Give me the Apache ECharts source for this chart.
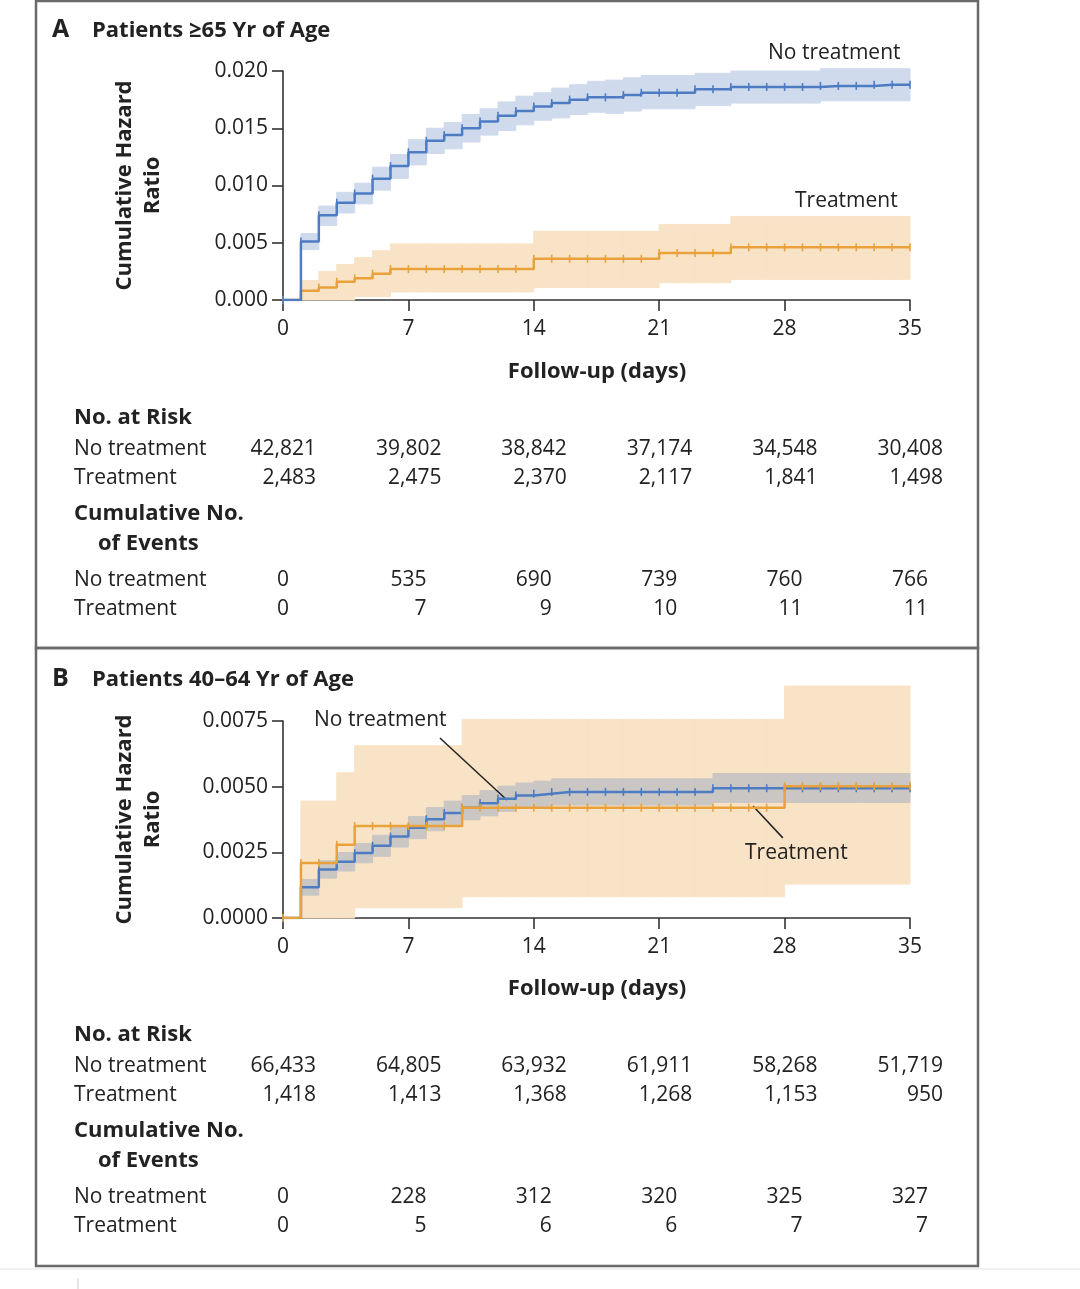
<!DOCTYPE html>
<html>
<head>
<meta charset="utf-8">
<script src="https://cdn.jsdelivr.net/npm/echarts@6/dist/echarts.min.js"></script>
<style>
html,body{margin:0;padding:0;background:#fff;}
#chart{width:1080px;height:1289px;}
</style>
</head>
<body>
<div id="chart"></div>
<script>
// ---------- DATA ----------
const xTicks = [0, 7, 14, 21, 28, 35];

// Panel A: Patients >=65 yr — cumulative hazard by day (value holding from day d to d+1)
const noTxA = [0, 0.0051, 0.0074, 0.0085, 0.0093, 0.0106, 0.0117, 0.0129, 0.0139, 0.0144, 0.0150, 0.0156,
  0.0161, 0.0165, 0.0169, 0.0172, 0.0175, 0.0177, 0.0177, 0.0179, 0.0181, 0.0181, 0.0181, 0.0184, 0.0184,
  0.0186, 0.0186, 0.0186, 0.0186, 0.0186, 0.0187, 0.0187, 0.0187, 0.0188, 0.0188, 0.0188];
const noTxALower = [null, 0.0044, 0.0065, 0.0076, 0.0084, 0.0096, 0.0106, 0.0118, 0.0128, 0.0132, 0.0138, 0.0144,
  0.0148, 0.0153, 0.0157, 0.0159, 0.0162, 0.0164, 0.0163, 0.0165, 0.0167, 0.0167, 0.0167, 0.0170, 0.0170,
  0.0172, 0.0172, 0.0172, 0.0172, 0.0172, 0.0174, 0.0174, 0.0174, 0.0174, 0.0174];
const noTxAUpper = [null, 0.0058, 0.0082, 0.0094, 0.0102, 0.0116, 0.0127, 0.0140, 0.0150, 0.0155, 0.0162, 0.0167,
  0.0173, 0.0178, 0.0181, 0.0185, 0.0188, 0.0191, 0.0192, 0.0194, 0.0196, 0.0196, 0.0196, 0.0198, 0.0198,
  0.0200, 0.0200, 0.0200, 0.0200, 0.0200, 0.0202, 0.0202, 0.0202, 0.0202, 0.0202];
const txA = [0, 0.0008, 0.0011, 0.0016, 0.0019, 0.0023, 0.0027, 0.0027, 0.0027, 0.0027, 0.0027, 0.0027,
  0.0027, 0.0027, 0.0036, 0.0036, 0.0036, 0.0036, 0.0036, 0.0036, 0.0036, 0.0041, 0.0041, 0.0041, 0.0041,
  0.0046, 0.0046, 0.0046, 0.0046, 0.0046, 0.0046, 0.0046, 0.0046, 0.0046, 0.0046, 0.0046];
const txALower = [null, 0, 0, 0, 0.0003, 0.0003, 0.0007, 0.0007, 0.0007, 0.0007, 0.0007, 0.0007,
  0.0007, 0.0007, 0.0011, 0.0011, 0.0011, 0.0011, 0.0011, 0.0011, 0.0011, 0.0015, 0.0015, 0.0015, 0.0015,
  0.0018, 0.0018, 0.0018, 0.0018, 0.0018, 0.0018, 0.0018, 0.0018, 0.0018, 0.0018];
const txAUpper = [null, 0.0017, 0.0025, 0.0031, 0.0037, 0.0043, 0.0049, 0.0049, 0.0049, 0.0049, 0.0049, 0.0049,
  0.0049, 0.0049, 0.0060, 0.0060, 0.0060, 0.0060, 0.0060, 0.0060, 0.0060, 0.0066, 0.0066, 0.0066, 0.0066,
  0.0073, 0.0073, 0.0073, 0.0073, 0.0073, 0.0073, 0.0073, 0.0073, 0.0073, 0.0073];

// Panel B: Patients 40-64 yr
const noTxB = [0, 0.00117, 0.00185, 0.00214, 0.00247, 0.00275, 0.0031, 0.00344, 0.00376, 0.0040, 0.0042, 0.00437,
  0.00454, 0.00466, 0.00473, 0.0048, 0.0048, 0.0048, 0.0048, 0.0048, 0.0048, 0.0048, 0.0048, 0.0048, 0.00494,
  0.00494, 0.00494, 0.00494, 0.00494, 0.00494, 0.00494, 0.00494, 0.00494, 0.00494, 0.00494, 0.00494];
const noTxBLower = [null, 0.00087, 0.00152, 0.00179, 0.0021, 0.00235, 0.0027, 0.00302, 0.00332, 0.00355, 0.00374, 0.00389,
  0.00406, 0.00418, 0.00425, 0.0043, 0.0043, 0.0043, 0.0043, 0.0043, 0.0043, 0.0043, 0.0043, 0.0043, 0.0044,
  0.0044, 0.0044, 0.0044, 0.0044, 0.0044, 0.0044, 0.0044, 0.0044, 0.0044, 0.0044];
const noTxBUpper = [null, 0.00147, 0.00218, 0.00249, 0.00284, 0.00315, 0.0035, 0.00386, 0.0042, 0.00445, 0.00466, 0.00485,
  0.00502, 0.00514, 0.00521, 0.0053, 0.0053, 0.0053, 0.0053, 0.0053, 0.0053, 0.0053, 0.0053, 0.0053, 0.0055,
  0.0055, 0.0055, 0.0055, 0.0055, 0.0055, 0.0055, 0.0055, 0.0055, 0.0055, 0.0055];
const txB = [0, 0.00209, 0.00209, 0.00279, 0.0035, 0.0035, 0.0035, 0.0035, 0.0035, 0.0035, 0.0042, 0.0042,
  0.0042, 0.0042, 0.0042, 0.0042, 0.0042, 0.0042, 0.0042, 0.0042, 0.0042, 0.0042, 0.0042, 0.0042, 0.0042,
  0.0042, 0.0042, 0.0042, 0.00502, 0.00502, 0.00502, 0.00502, 0.00502, 0.00502, 0.00502, 0.00502];
const txBLower = [null, 0, 0, 0, 0.00039, 0.00039, 0.00039, 0.00039, 0.00039, 0.00039, 0.00081, 0.00081,
  0.00081, 0.00081, 0.00081, 0.00081, 0.00081, 0.00081, 0.00081, 0.00081, 0.00081, 0.00081, 0.00081, 0.00081, 0.00081,
  0.00081, 0.00081, 0.00081, 0.00129, 0.00129, 0.00129, 0.00129, 0.00129, 0.00129, 0.00129];
const txBUpper = [null, 0.00445, 0.00445, 0.00553, 0.00656, 0.00656, 0.00656, 0.00656, 0.00656, 0.00656, 0.00756, 0.00756,
  0.00756, 0.00756, 0.00756, 0.00756, 0.00756, 0.00756, 0.00756, 0.00756, 0.00756, 0.00756, 0.00756, 0.00756, 0.00756,
  0.00756, 0.00756, 0.00756, 0.00883, 0.00883, 0.00883, 0.00883, 0.00883, 0.00883, 0.00883];

// Tables
const riskNoTxA = [42821, 39802, 38842, 37174, 34548, 30408];
const riskTxA = [2483, 2475, 2370, 2117, 1841, 1498];
const eventsNoTxA = [0, 535, 690, 739, 760, 766];
const eventsTxA = [0, 7, 9, 10, 11, 11];
const riskNoTxB = [66433, 64805, 63932, 61911, 58268, 51719];
const riskTxB = [1418, 1413, 1368, 1268, 1153, 950];
const eventsNoTxB = [0, 228, 312, 320, 325, 327];
const eventsTxB = [0, 5, 6, 6, 7, 7];

// ---------- STYLE ----------
const FONT = '"Open Sans", "Noto Sans", sans-serif';
const BLUE = '#4d7cc3';
const ORANGE = '#e9a23b';
const BLUE_BAND = '#cfdaed';
const ORANGE_BAND = '#f8e3c6';
const GRAY_BAND = '#cac6c3';
const AX = '#333';

const GL = 283, GW = 627;
const gridA = {left: GL, top: 71, width: GW, height: 229};
const gridB = {left: GL, top: 721, width: GW, height: 197};

function lineData(arr) { return arr.map((v, d) => [d, v]); }
function bandData(lo, hi) {
  const out = [];
  for (let d = 0; d < lo.length; d++) if (lo[d] !== null) out.push([d, lo[d], hi[d]]);
  return out;
}
function bandSeries(idx, lo, hi, color, z) {
  return {
    type: 'custom', xAxisIndex: idx, yAxisIndex: idx, clip: false, silent: true, z: z,
    data: bandData(lo, hi),
    renderItem: function (params, api) {
      const x0 = api.value(0);
      const p1 = api.coord([x0, api.value(2)]);
      const p2 = api.coord([x0 + 1, api.value(1)]);
      return {type: 'rect', shape: {x: p1[0], y: p1[1], width: p2[0] - p1[0], height: p2[1] - p1[1]},
        style: {fill: color, stroke: color, lineWidth: 1}};
    }
  };
}
function kmSeries(idx, arr, color, z, extra) {
  return Object.assign({
    type: 'line', xAxisIndex: idx, yAxisIndex: idx, step: 'end', data: lineData(arr),
    symbol: 'rect', symbolSize: [1.6, 8], showSymbol: true, silent: true, z: z,
    lineStyle: {color: color, width: 2.5}, itemStyle: {color: color}
  }, extra || {});
}
function xAxis(idx) {
  return {
    type: 'value', gridIndex: idx, min: 0, max: 35, interval: 7,
    axisLine: {lineStyle: {color: AX, width: 1.6}},
    axisTick: {length: 11, lineStyle: {color: AX, width: 1.6}},
    axisLabel: {fontSize: 21, color: '#222', margin: 19, fontFamily: FONT},
    splitLine: {show: false}
  };
}
function yAxis(idx, max, interval, digits) {
  return {
    type: 'value', gridIndex: idx, min: 0, max: max, interval: interval,
    axisLine: {show: true, lineStyle: {color: AX, width: 1.6}},
    axisTick: {show: true, length: 11, lineStyle: {color: AX, width: 1.6}},
    axisLabel: {fontSize: 21, color: '#222', margin: 15, fontFamily: FONT,
      formatter: v => v.toFixed(digits)},
    splitLine: {show: false}
  };
}

// ---------- GRAPHIC TEXTS ----------
const graphics = [];
function txt(x, y, s, opt) {
  opt = opt || {};
  graphics.push({
    type: 'text', x: x, y: y, rotation: opt.rotation || 0, silent: true, z: 100,
    style: {text: s, fontFamily: FONT, fontSize: opt.size || 21, fontWeight: opt.bold ? 'bold' : 'normal',
      fill: opt.color || '#222', textAlign: opt.align || 'left', textVerticalAlign: 'middle',
      lineHeight: opt.lineHeight || 28}
  });
}
graphics.push({type: 'rect', shape: {x: 36, y: 1, width: 942, height: 647}, silent: true,
  style: {fill: 'none', stroke: '#6a6a6a', lineWidth: 2.5}});
graphics.push({type: 'rect', shape: {x: 36, y: 648, width: 942, height: 618}, silent: true,
  style: {fill: 'none', stroke: '#6a6a6a', lineWidth: 2.5}});
graphics.push({type: 'line', shape: {x1: 0, y1: 1269, x2: 1080, y2: 1269}, silent: true,
  style: {stroke: '#e2e2e2', lineWidth: 1}});
graphics.push({type: 'line', shape: {x1: 78, y1: 1278, x2: 78, y2: 1289}, silent: true,
  style: {stroke: '#cccccc', lineWidth: 1}});

function tickX(d) { return GL + d / 35 * GW; }
function fmt(n) { return n.toLocaleString('en-US'); }

function panel(titleY, offY, letter, title, riskNo, riskTx, evNo, evTx, gridTop, gridH) {
  txt(52, titleY, letter, {bold: true, size: 25});
  txt(92, titleY + 1, title, {bold: true, size: 22});
  // y-axis title
  txt(139, gridTop + gridH / 2, 'Cumulative Hazard\nRatio', {bold: true, size: 22, align: 'center', rotation: Math.PI / 2});
  // x-axis title
  txt(597, 372 + offY, 'Follow-up (days)', {bold: true, size: 22, align: 'center'});
  // table
  txt(74, 418 + offY, 'No. at Risk', {bold: true, size: 22});
  txt(74, 449 + offY, 'No treatment');
  txt(74, 478 + offY, 'Treatment');
  txt(74, 514 + offY, 'Cumulative No.', {bold: true, size: 22});
  txt(98, 544 + offY, 'of Events', {bold: true, size: 22});
  txt(74, 580 + offY, 'No treatment');
  txt(74, 609 + offY, 'Treatment');
  xTicks.forEach((d, i) => {
    const tx = tickX(d);
    txt(tx + 33, 449 + offY, fmt(riskNo[i]), {align: 'right'});
    txt(tx + 33, 478 + offY, fmt(riskTx[i]), {align: 'right'});
    if (i === 0) {
      txt(tx, 580 + offY, fmt(evNo[i]), {align: 'center'});
      txt(tx, 609 + offY, fmt(evTx[i]), {align: 'center'});
    } else {
      txt(tx + 18, 580 + offY, fmt(evNo[i]), {align: 'right'});
      txt(tx + 18, 609 + offY, fmt(evTx[i]), {align: 'right'});
    }
  });
}
panel(30, 0, 'A', 'Patients \u226565 Yr of Age', riskNoTxA, riskTxA, eventsNoTxA, eventsTxA, gridA.top, gridA.height);
panel(679, 617, 'B', 'Patients 40\u201364 Yr of Age', riskNoTxB, riskTxB, eventsNoTxB, eventsTxB, gridB.top, gridB.height);

// curve labels
txt(768, 53, 'No treatment');
txt(795, 201, 'Treatment');
txt(314, 720, 'No treatment');
txt(745, 853, 'Treatment');

// ---------- CHART ----------
const chart = echarts.init(document.getElementById('chart'), null, {renderer: 'canvas'});
chart.setOption({
  animation: false,
  backgroundColor: '#fff',
  grid: [gridA, gridB],
  xAxis: [xAxis(0), xAxis(1)],
  yAxis: [yAxis(0, 0.02, 0.005, 3), yAxis(1, 0.0075, 0.0025, 4)],
  series: [
    bandSeries(0, txALower, txAUpper, ORANGE_BAND, 1),
    bandSeries(0, noTxALower, noTxAUpper, BLUE_BAND, 2),
    kmSeries(0, txA, ORANGE, 5),
    kmSeries(0, noTxA, BLUE, 6),
    bandSeries(1, txBLower, txBUpper, ORANGE_BAND, 1),
    bandSeries(1, noTxBLower, noTxBUpper, GRAY_BAND, 2),
    kmSeries(1, noTxB, BLUE, 5),
    kmSeries(1, txB, ORANGE, 6, {
      markLine: {
        silent: true, symbol: ['none', 'none'], label: {show: false},
        lineStyle: {color: '#222', width: 1.5, type: 'solid'},
        data: [
          [{coord: [8.76, 0.00685]}, {coord: [12.5, 0.00449]}],
          [{coord: [26.24, 0.00426]}, {coord: [27.9, 0.00305]}]
        ]
      }
    })
  ],
  graphic: graphics
});
</script>
</body>
</html>
